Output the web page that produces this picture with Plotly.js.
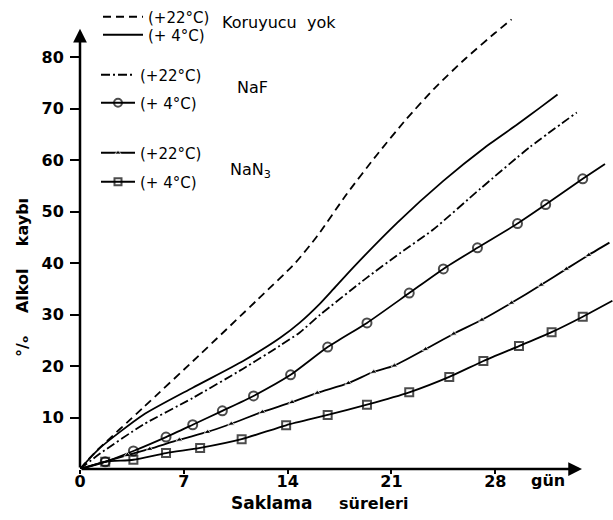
<!DOCTYPE html>
<html><head><meta charset="utf-8">
<script src="https://cdn.plot.ly/plotly-3.0.1.min.js"></script>
<style>html,body{margin:0;padding:0;background:#fff}#c{width:613px;height:520px}</style>
</head><body><div id="c"></div>
<script>
// ---- data (days, % alcohol loss) ----
const noneWarmDays = [0, 1, 4.25, 8, 12, 14.5, 16, 18, 20, 22, 24, 26, 28, 29.1];
const noneWarmLoss = [0, 3.2, 11.9, 22, 33, 40, 45.3, 53.5, 61, 68, 74.3, 79.8, 84.8, 87.4];

const noneColdDays = [0, 1.35, 4.25, 7.6, 11, 13.5, 14.8, 16.2, 17.1, 18.4, 21.4, 24.5, 27.3, 29.5, 31, 32.2];
const noneColdLoss = [0, 4.1, 10.5, 15.8, 21, 25.5, 28.4, 32.2, 35.0, 39.1, 47.9, 56, 62.5, 67, 70.2, 72.8];

const nafWarmDays = [0, 1.35, 4.25, 7.6, 11, 13.5, 14.8, 16.2, 19.35, 21.6, 23.8, 27, 30.3, 33.5];
const nafWarmLoss = [0, 3, 8.6, 13.8, 19.5, 24, 26.5, 30, 37.2, 42, 46.5, 54.5, 62.5, 69.3];

const nafColdDays = [0, 1.7, 3.6, 5.8, 7.6, 9.6, 11.7, 14.2, 16.7, 19.35, 22.2, 24.5, 26.8, 29.5, 31.4, 33.9, 35.4];
const nafColdLoss = [0, 1.4, 3.5, 6.2, 8.6, 11.3, 14.2, 18.3, 23.7, 28.4, 34.2, 38.9, 43.0, 47.7, 51.4, 56.4, 59.3];

const nan3WarmDays = [0, 3.2, 4.7, 6.7, 8.6, 10.2, 12.3, 14.3, 16.0, 18.1, 19.8, 21.2, 23.3, 25.2, 27.1, 29.1, 31.1, 32.8, 34.3, 35.7];
const nan3WarmLoss = [0, 2.7, 3.9, 5.7, 7.2, 8.8, 11.1, 13.0, 14.8, 16.7, 18.9, 20.1, 23.3, 26.3, 29.0, 32.3, 35.8, 38.9, 41.6, 44.0];

const nan3ColdDays = [0, 1.7, 3.6, 5.8, 8.1, 10.9, 13.9, 16.7, 19.35, 22.2, 24.9, 27.2, 29.6, 31.8, 33.9, 35.9];
const nan3ColdLoss = [0, 1.4, 1.8, 3.1, 4.1, 5.8, 8.5, 10.5, 12.5, 14.9, 17.9, 21.0, 23.9, 26.6, 29.6, 32.7];

const xTicks = [0, 7, 14, 21, 28];
const yTicks = [10, 20, 30, 40, 50, 60, 70, 80];
const labelWarm = '(+22°C)';
const labelCold = '(+ 4°C)';

// ---- layout helpers ----
const W = 613, H = 520, M = {l: 80, r: 0, t: 6, b: 51};
const px = x => (x - M.l) / (W - M.l - M.r);
const py = y => (H - M.b - y) / (H - M.t - M.b);
const FONT = 'DejaVu Sans';
// inner points only get markers (line runs on past first/last)
const innerSizes = (arr, s) => arr.map((_, i) => (i === 0 || i === arr.length - 1) ? 0 : s);

const lineW = 1.8;
const smooth = {shape: 'spline', smoothing: 0.6};
const traces = [
  {x: noneWarmDays, y: noneWarmLoss, name: labelWarm, legend: 'legend',
   mode: 'lines', line: Object.assign({color: '#000', width: lineW, dash: '8px,5px'}, smooth)},
  {x: noneColdDays, y: noneColdLoss, name: labelCold, legend: 'legend2',
   mode: 'lines', line: Object.assign({color: '#000', width: lineW}, smooth)},
  {x: nafWarmDays, y: nafWarmLoss, name: labelWarm, legend: 'legend3',
   mode: 'lines', line: Object.assign({color: '#000', width: lineW, dash: '9px,3px,2px,3px'}, smooth)},
  {x: nafColdDays, y: nafColdLoss, name: labelCold, legend: 'legend4',
   mode: 'lines+markers', line: Object.assign({color: '#000', width: lineW}, smooth),
   marker: {symbol: 'circle-open', size: innerSizes(nafColdDays, 9), color: '#000', line: {width: 2, color: '#000'}}},
  {x: nan3WarmDays, y: nan3WarmLoss, name: labelWarm, legend: 'legend5',
   mode: 'lines+markers', line: Object.assign({color: '#000', width: lineW}, smooth),
   marker: {symbol: 'triangle-up', size: innerSizes(nan3WarmDays, 6), color: '#000'}},
  {x: nan3ColdDays, y: nan3ColdLoss, name: labelCold, legend: 'legend6',
   mode: 'lines+markers', line: Object.assign({color: '#000', width: lineW}, smooth),
   marker: {symbol: 'square-open', size: innerSizes(nan3ColdDays, 8), color: '#000', line: {width: 2, color: '#000'}}}
];

const legendRows = [17, 35, 75, 103, 153, 182];
const legendX = [98, 98, 96, 96, 96, 96];
const legendW = [40, 40, 34, 34, 34, 34];
const mkLegend = (i) => ({
  x: px(legendX[i]), y: py(legendRows[i]), xanchor: 'left', yanchor: 'middle',
  bgcolor: 'rgba(0,0,0,0)', borderwidth: 0, itemwidth: legendW[i],
  font: {family: FONT, size: 15, color: '#000'}
});

const layout = {
  width: W, height: H, margin: M,
  paper_bgcolor: '#fff', plot_bgcolor: '#fff',
  font: {family: FONT, color: '#000'},
  showlegend: true,
  legend: mkLegend(0), legend2: mkLegend(1), legend3: mkLegend(2),
  legend4: mkLegend(3), legend5: mkLegend(4), legend6: mkLegend(5),
  xaxis: {range: [0, 35.94], tickvals: xTicks, ticktext: xTicks.map(String),
          ticks: 'outside', ticklen: 4, tickwidth: 2, tickcolor: '#000',
          ticklabelstandoff: -6,
          showline: false, showgrid: false, zeroline: false,
          tickfont: {family: FONT, size: 16, color: '#000', weight: 'bold'}},
  yaxis: {range: [0, 90], tickvals: yTicks, ticktext: yTicks.map(String),
          ticks: 'outside', ticklen: 9, tickwidth: 2, tickcolor: '#000',
          ticklabelstandoff: 3,
          showline: false, showgrid: false, zeroline: false,
          tickfont: {family: FONT, size: 16, color: '#000', weight: 'bold'}},
  annotations: [
    // axis arrows
    {xref: 'x', yref: 'y', axref: 'x', ayref: 'y', x: 33.85, y: 0, ax: 0, ay: 0,
     showarrow: true, arrowhead: 2, arrowsize: 1.1, arrowwidth: 2.5, arrowcolor: '#000', text: ''},
    {xref: 'x', yref: 'y', axref: 'x', ayref: 'y', x: 0, y: 85.6, ax: 0, ay: 0,
     showarrow: true, arrowhead: 2, arrowsize: 1.1, arrowwidth: 2.5, arrowcolor: '#000', text: ''},
    {xref: 'paper', yref: 'paper', x: px(548), y: py(481), xanchor: 'center', yanchor: 'middle',
     showarrow: false, text: '<b>gün</b>', font: {family: FONT, size: 16}},
    {xref: 'paper', yref: 'paper', x: px(272), y: py(503), xanchor: 'center', yanchor: 'middle',
     showarrow: false, text: '<b>Saklama</b>', font: {family: FONT, size: 17}},
    {xref: 'paper', yref: 'paper', x: px(373), y: py(503), xanchor: 'center', yanchor: 'middle',
     showarrow: false, text: '<b>süreleri</b>', font: {family: FONT, size: 16}},
    {xref: 'paper', yref: 'paper', x: px(22), y: py(278), xanchor: 'center', yanchor: 'middle',
     showarrow: false, textangle: -90, text: '<b>°/ₒ    Alkol    kaybı</b>', font: {family: FONT, size: 16}},
    // legend group labels
    {xref: 'paper', yref: 'paper', x: px(220), y: py(23), xanchor: 'left', yanchor: 'middle',
     showarrow: false, text: 'Koruyucu  yok', font: {family: FONT, size: 16}},
    {xref: 'paper', yref: 'paper', x: px(235), y: py(87), xanchor: 'left', yanchor: 'middle',
     showarrow: false, text: 'NaF', font: {family: FONT, size: 16}},
    {xref: 'paper', yref: 'paper', x: px(228), y: py(170), xanchor: 'left', yanchor: 'middle',
     showarrow: false, text: 'NaN<sub>3</sub>', font: {family: FONT, size: 16}}
  ]
};

Plotly.newPlot('c', traces, layout, {displayModeBar: false, staticPlot: true});
</script></body></html>
